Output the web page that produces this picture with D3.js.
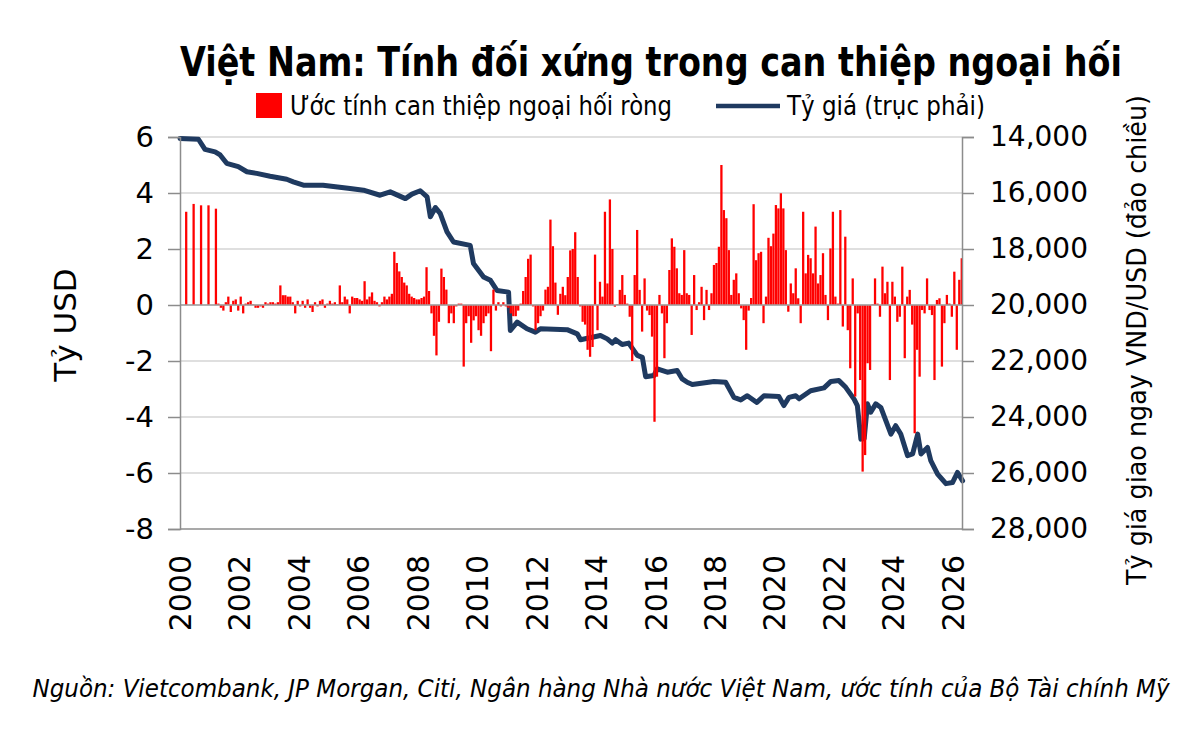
<!DOCTYPE html>
<html>
<head>
<meta charset="utf-8">
<script src="https://cdn.jsdelivr.net/npm/d3@7"></script>
<style>
	body { margin: 0; background: #fff; }
	svg { display: block; }
</style>
</head>
<body>
<svg id="chart" width="1200" height="741"></svg>
<script>
// quarterly estimates at the start, then monthly from 2001-04
var quarterLabels = ['2000-03', '2000-06', '2000-09', '2000-12', '2001-03'];
var quarterFlows = [3.33, 3.61, 3.56, 3.56, 3.44];

var monthlyStart = '2001-04';
var monthlyFlows = [
	0.05, -0.1, -0.2, 0.1, 0.3, -0.25, 0.15, 0.2, -0.2,                  // 2001 apr-dec
	0.3, -0.3, 0.05, 0.1, 0.15, 0.02, -0.1, -0.1, -0.05, -0.1, 0.1, 0.05,  // 2002
	0.1, 0.1, 0.05, 0.1, 0.7, 0.35, 0.35, 0.3, 0.3, 0.1, -0.3, 0.15,      // 2003
	-0.05, 0.15, -0.1, 0.2, -0.1, -0.25, 0.1, -0.05, 0.15, 0.2, -0.1, 0.05, // 2004
	0.15, 0.05, 0.1, 0.02, 0.7, 0.1, 0.3, 0.2, -0.3, 0.3, 0.25, 0.25,     // 2005
	0.2, 0.15, 0.85, 0.2, 0.3, 0.45, 0.15, 0.1, -0.05, 0.1, 0.3, 0.2,     // 2006
	0.3, 0.4, 1.9, 1.5, 1.2, 1.0, 0.8, 0.7, 0.4, 0.3, 0.25, 0.2,          // 2007
	0.2, 0.25, 0.3, 1.35, 0.5, -0.3, -1.1, -1.8, -0.6, 1.3, 1.0, 0.55,    // 2008
	-0.65, -0.3, -0.65, -0.05, 0.05, 0.05, -2.2, -0.65, -0.4, -1.35, -0.55, -0.4, // 2009
	-0.9, -1.1, -0.65, -0.4, -0.3, -1.65, 0.55, -0.2, 0.1, -0.05, 0.1, -0.05,     // 2010
	-0.1, -0.3, -0.4, -0.4, -0.2, 0.05, 0.5, 1.0, 1.65, 1.8, -0.05, -0.9,         // 2011
	-0.65, -0.4, -0.2, 0.55, 0.65, 3.05, 2.1, 0.8, -0.35, 0.4, 0.65, 0.35,        // 2012
	1.0, 1.95, 2.0, 2.6, 1.0, -0.05, -0.6, -0.7, -1.6, -1.85, -1.5, 1.8,          // 2013
	-0.9, 0.83, 0.3, 3.33, 0.77, 3.77, 2.0, -0.06, 0.02, 0.54, 1.07, 0.36,        // 2014
	0.05, -0.42, -2.0, 1.07, 2.68, 0.54, -0.95, 0.95, -0.2, -0.36, -1.13, -4.17,  // 2015
	-2.56, 0.36, -0.3, -1.9, -0.65, 1.25, 2.38, 2.08, 1.31, 0.42, 0.36, 1.96,     // 2016
	0.42, 0.36, -1.07, 1.07, -0.18, 0.1, 0.65, -0.54, 0.54, -0.18, 0.42, 1.43,    // 2017
	1.5, 2.08, 5.0, 3.39, 3.1, 1.96, 0.36, 0.9, 1.13, 0.42, -0.12, -0.54,         // 2018
	-1.6, -0.2, 0.25, 3.6, 1.6, 1.85, 1.9, -0.65, 0.3, 2.4, 2.1, 2.55,            // 2019
	3.57, 3.45, 3.99, 3.45, 1.96, -0.24, 0.77, 0.42, 1.31, 0.24, -0.65, 3.33,     // 2020
	1.13, 1.79, 1.67, 1.13, 2.8, 0.77, 1.07, 1.85, 0.36, -0.54, 2.02, 3.33,       // 2021
	0.3, 0.05, 3.39, -0.77, 2.44, -0.9, -2.26, 0.95, -3.27, -0.3, -2.68, -5.95,   // 2022
	-5.36, -2.08, -2.32, 0.02, 0.95, 0.05, -0.42, 1.37, 0.42, 0.83, -2.68, 0.83,  // 2023
	0.3, -0.6, -0.42, 1.37, -1.9, 0.3, 0.54, -0.7, -4.58, -1.6, -2.56, -0.18,     // 2024
	-0.3, 0.95, -0.18, -0.36, -2.68, 0.18, 0.24, -2.2, -0.65, 0.36, 0.05, -0.42,  // 2025
	1.19, -1.6, 0.9, 1.67                                                 // 2026
];

// exchange rate, VND per USD (right axis, inverted)
var rateYears = [2000.00, 2000.62, 2000.84, 2001.18, 2001.35, 2001.57, 2001.96, 2002.25, 2002.58, 2003.03,
	2003.59, 2003.81, 2004.15, 2004.81, 2005.72, 2006.17, 2006.73, 2007.07, 2007.58, 2007.80,
	2008.08, 2008.31, 2008.42, 2008.59, 2008.75, 2008.98, 2009.20, 2009.76, 2009.87, 2010.21,
	2010.44, 2010.66, 2011.05, 2011.11, 2011.34, 2011.67, 2011.95, 2012.12, 2013.02, 2013.36,
	2013.47, 2014.14, 2014.37, 2014.54, 2014.65, 2014.87, 2015.09, 2015.38, 2015.55, 2015.66,
	2015.94, 2016.05, 2016.39, 2016.72, 2016.89, 2017.06, 2017.23, 2017.96, 2018.35, 2018.63,
	2018.86, 2019.08, 2019.40, 2019.64, 2020.14, 2020.31, 2020.48, 2020.71, 2020.82, 2021.21,
	2021.66, 2021.89, 2022.16, 2022.39, 2022.67, 2022.78, 2022.90, 2023.01, 2023.12, 2023.23,
	2023.40, 2023.57, 2023.91, 2024.07, 2024.24, 2024.47, 2024.64, 2024.81, 2024.92, 2025.14,
	2025.25, 2025.48, 2025.76, 2025.98, 2026.15, 2026.32];
var rateValues = [14050, 14080, 14440, 14530, 14640, 14940, 15060, 15240, 15300, 15400,
	15510, 15600, 15720, 15720, 15840, 15900, 16080, 15960, 16200, 16040,
	15920, 16140, 16850, 16520, 16730, 17390, 17750, 17870, 18520, 19000,
	19120, 19480, 19540, 20910, 20610, 20850, 20970, 20850, 20880, 21030,
	21240, 21090, 21210, 21360, 21240, 21410, 21360, 21800, 21870, 22560,
	22520, 22280, 22400, 22340, 22640, 22760, 22840, 22730, 22760, 23300,
	23390, 23240, 23480, 23240, 23270, 23590, 23300, 23240, 23350, 23060,
	22960, 22730, 22700, 22940, 23360, 23590, 24790, 24780, 23530, 23830,
	23530, 23660, 24610, 24310, 24610, 25380, 25320, 24610, 25320, 25090,
	25560, 26040, 26380, 26340, 25980, 26280];

var leftTicks = [6, 4, 2, 0, -2, -4, -6, -8];
var rightTicks = [14000, 16000, 18000, 20000, 22000, 24000, 26000, 28000];
var yearTicks = [2000, 2002, 2004, 2006, 2008, 2010, 2012, 2014, 2016, 2018, 2020, 2022, 2024, 2026];

var labels = {
	title: 'Việt Nam: Tính đối xứng trong can thiệp ngoại hối',
	bars: 'Ước tính can thiệp ngoại hối ròng',
	line: 'Tỷ giá (trục phải)',
	left: 'Tỷ USD',
	right: 'Tỷ giá giao ngay VND/USD (đảo chiều)',
	source: 'Nguồn: Vietcombank, JP Morgan, Citi, Ngân hàng Nhà nước Việt Nam, ước tính của Bộ Tài chính Mỹ'
};

function drawChart() {
	var narrow = '"Liberation Sans Narrow", "DejaVu Sans Condensed", "Liberation Sans", sans-serif';
	var wide = '"DejaVu Sans", Verdana, sans-serif';

	var svg = d3.select('#chart');
	var plotLeft = 180, plotRight = 962, plotTop = 137, plotBottom = 529;

	function monthToYear(s) {
		var p = s.split('-');
		return +p[0] + (+p[1] - 0.5) / 12;
	}

	var bars = quarterLabels.map(function(q, i) { return { t: monthToYear(q), v: quarterFlows[i] }; });
	var start = monthlyStart.split('-').map(Number);
	monthlyFlows.forEach(function(v, i) {
		var m = start[1] - 1 + i;
		bars.push({ t: start[0] + Math.floor(m / 12) + ((m % 12) + 0.5) / 12, v: v });
	});

	var x = d3.scaleLinear().domain([2000, 2026.3]).range([plotLeft, plotRight]);
	var y = d3.scaleLinear().domain([-8, 6]).range([plotBottom, plotTop]);
	var yR = d3.scaleLinear().domain([14000, 28000]).range([plotTop, plotBottom]);

	svg.append('rect').attr('width', 1200).attr('height', 741).attr('fill', '#fff');

	// gridlines
	svg.append('g').selectAll('line').data(leftTicks).enter().append('line')
		.attr('x1', plotLeft).attr('x2', plotRight)
		.attr('y1', function(d) { return y(d); }).attr('y2', function(d) { return y(d); })
		.attr('stroke', function(d) { return d === -8 ? '#8c8c8c' : '#d4d4d4'; })
		.attr('stroke-width', 1.5);

	// rate line
	var line = d3.line()
		.x(function(d, i) { return x(rateYears[i]); })
		.y(function(d) { return yR(d); });
	svg.append('path').datum(rateValues)
		.attr('d', line)
		.attr('fill', 'none')
		.attr('stroke', '#1f3a60')
		.attr('stroke-width', 5)
		.attr('stroke-linejoin', 'round')
		.attr('stroke-linecap', 'round');

	// bars
	var bw = (x(2001) - x(2000)) / 12 * 0.92;
	svg.append('g').selectAll('rect').data(bars).enter().append('rect')
		.attr('x', function(d) { return x(d.t) - bw / 2; })
		.attr('width', bw)
		.attr('y', function(d) { return y(Math.max(0, d.v)); })
		.attr('height', function(d) { return Math.abs(y(d.v) - y(0)); })
		.attr('fill', '#ff0000');

	// zero line
	svg.append('line')
		.attr('x1', plotLeft).attr('x2', plotRight).attr('y1', y(0)).attr('y2', y(0))
		.attr('stroke', '#a0a0a0').attr('stroke-width', 1.5);

	// left axis
	var leftAxis = svg.append('g').attr('transform', 'translate(' + plotLeft + ',0)')
		.call(d3.axisLeft(y).tickValues(leftTicks).tickSize(12).tickPadding(14)
			.tickFormat(function(d) { return String(d); }));
	leftAxis.select('.domain').attr('stroke', '#8c8c8c').attr('stroke-width', 1.5);
	leftAxis.selectAll('.tick line').attr('stroke', '#8c8c8c').attr('stroke-width', 1.5);
	leftAxis.selectAll('.tick text').attr('font-family', wide).attr('font-size', 29).attr('fill', '#000');

	// right axis
	var rightAxis = svg.append('g').attr('transform', 'translate(' + plotRight + ',0)')
		.call(d3.axisRight(yR).tickValues(rightTicks).tickSize(12).tickPadding(16).tickFormat(d3.format(',')));
	rightAxis.select('.domain').attr('stroke', '#8c8c8c').attr('stroke-width', 1.5);
	rightAxis.selectAll('.tick line').attr('stroke', '#8c8c8c').attr('stroke-width', 1.5);
	rightAxis.selectAll('.tick text').attr('font-family', wide).attr('font-size', 28).attr('fill', '#000');

	// year labels (vertical)
	svg.append('g').selectAll('text').data(yearTicks).enter().append('text')
		.attr('transform', function(d) { return 'translate(' + x(d) + ',555) rotate(-90)'; })
		.attr('text-anchor', 'end')
		.attr('dy', '0.36em')
		.attr('font-family', wide)
		.attr('font-size', 30)
		.text(function(d) { return d; });

	// axis titles
	svg.append('text')
		.attr('transform', 'translate(76,325) rotate(-90)')
		.attr('text-anchor', 'middle')
		.attr('font-family', wide).attr('font-size', 31)
		.text(labels.left);
	svg.append('text')
		.attr('transform', 'translate(1146,340) rotate(-90)')
		.attr('text-anchor', 'middle')
		.attr('font-family', narrow).attr('font-size', 26)
		.attr('textLength', 490).attr('lengthAdjust', 'spacingAndGlyphs')
		.text(labels.right);

	// title
	svg.append('text')
		.attr('x', 651).attr('y', 76)
		.attr('text-anchor', 'middle')
		.attr('font-family', narrow).attr('font-weight', 'bold').attr('font-size', 40)
		.attr('textLength', 942).attr('lengthAdjust', 'spacingAndGlyphs')
		.text(labels.title);

	// legend
	svg.append('rect').attr('x', 256).attr('y', 93).attr('width', 26).attr('height', 25).attr('fill', '#ff0000');
	svg.append('text').attr('x', 290).attr('y', 115)
		.attr('font-family', narrow).attr('font-size', 26)
		.attr('textLength', 382).attr('lengthAdjust', 'spacingAndGlyphs')
		.text(labels.bars);
	svg.append('line').attr('x1', 716).attr('x2', 780).attr('y1', 106).attr('y2', 106)
		.attr('stroke', '#1f3a60').attr('stroke-width', 4.5);
	svg.append('text').attr('x', 787).attr('y', 115)
		.attr('font-family', narrow).attr('font-size', 26)
		.attr('textLength', 198).attr('lengthAdjust', 'spacingAndGlyphs')
		.text(labels.line);

	// source
	svg.append('text').attr('x', 601).attr('y', 697)
		.attr('text-anchor', 'middle')
		.attr('font-family', narrow).attr('font-style', 'italic').attr('font-size', 25)
		.attr('textLength', 1137).attr('lengthAdjust', 'spacingAndGlyphs')
		.text(labels.source);
}
drawChart();
</script>
</body>
</html>
